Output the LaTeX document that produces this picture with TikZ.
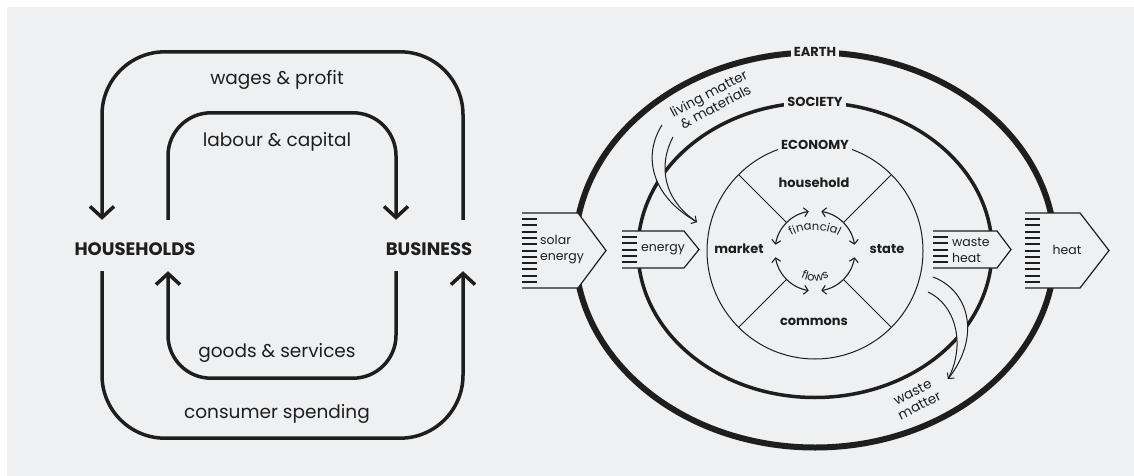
\documentclass[tikz,border=0pt]{standalone}
\usepackage{fontspec}
\setmainfont{Poppins}
\usepackage{tikz}
\usetikzlibrary{arrows.meta}
\usetikzlibrary{decorations.text}
\definecolor{paper}{HTML}{EFF0F2}
\definecolor{ink}{HTML}{1E1E1E}
\tikzstyle{loopline} = [draw=ink, line width=3.5pt, -{Straight Barb[length=11pt,width=24pt,line width=3.5pt]}]
\tikzstyle{actor} = [anchor=base, inner sep=0pt, text height=35pt, text depth=16pt, text=ink, font=\fontsize{18}{20}\selectfont\bfseries]
\tikzstyle{loopname} = [anchor=base, inner sep=0pt, text=ink, font=\fontsize{18.5}{20}\selectfont]
\tikzstyle{ring} = [fill=paper, inner sep=3pt, text=ink, font=\fontsize{13}{15}\selectfont\bfseries]
\tikzstyle{sector} = [inner sep=0pt, text=ink, font=\fontsize{13}{15}\selectfont\bfseries]
\tikzstyle{tag} = [inner sep=0pt, text=ink, align=left, font=\fontsize{12.5}{16}\selectfont]
\tikzstyle{slanted} = [inner sep=0pt, text=ink, align=center, font=\fontsize{13.5}{15}\selectfont]
\tikzstyle{flowarc} = [draw=ink, line width=1.1pt, {Straight Barb[length=4pt,width=9pt]}-{Straight Barb[length=4pt,width=9pt]}]
\tikzstyle{thinline} = [draw=ink, line width=1pt]
\tikzstyle{boxline} = [draw=ink, line width=1.2pt]
\tikzstyle{stripe} = [draw=ink, line width=2pt]

\begin{document}
\begin{tikzpicture}[x=1pt, y=-1pt]
\fill[white] (0,0) rectangle (1134,476);
\fill[paper] (7,7) rectangle (1134,476);

% circular flow
\node[actor] (hh) at (135,255) {HOUSEHOLDS};
\node[actor] (bus) at (429,255) {BUSINESS};
\draw[loopline, rounded corners=63pt] ([xshift=34pt]bus.north) -- ++(0,-168) -| ([xshift=-33pt]hh.north);
\draw[loopline, rounded corners=43pt] ([xshift=33pt]hh.north) -- ++(0,-107) -| ([xshift=-33pt]bus.north);
\draw[loopline, rounded corners=43pt] ([xshift=-33pt]bus.south) -- ++(0,107) -| ([xshift=33pt]hh.south);
\draw[loopline, rounded corners=63pt] ([xshift=-33pt]hh.south) -- ++(0,167) -| ([xshift=34pt]bus.south);
\node[loopname] (wages) at (277,85) {wages \& profit};
\node[loopname] (labour) at (277,146.5) {labour \& capital};
\node[loopname] (goods) at (277,357) {goods \& services};
\node[loopname] (spend) at (277,418) {consumer spending};

% nested rings
\coordinate (c) at (815,251);
\draw[draw=ink, line width=6pt] (815,250) ellipse[x radius=240, y radius=197.5];
\draw[draw=ink, line width=3.5pt] (815,250) ellipse[x radius=177, y radius=147.5];
\draw[thinline] (c) circle[radius=108];
\foreach \a in {45,135,225,315}
  \draw[thinline] (c) ++(\a:40) -- ++(\a:68);
\foreach \s in {9,99,189,279}
  \draw[flowarc] (c) ++(\s:40) arc[start angle=\s, delta angle=72, radius=40];
\path[decorate, decoration={text along path, text align=center,
  text={|\color{ink}\fontsize{11.5}{13}\selectfont|financial}}]
  (788,238) .. controls (801,227.5) and (827,227.5) .. (842,238);
\path[decorate, decoration={text along path, text align=center,
  text={|\color{ink}\fontsize{11.5}{13}\selectfont|flows}}]
  (798,276) .. controls (807,282.5) and (823,282.5) .. (832,276);

\node[ring] (earth) at (815,52) {EARTH};
\node[ring] (society) at (815,102) {SOCIETY};
\node[ring] (economy) at (815,145) {ECONOMY};
\node[sector] (household) at (814,183) {household};
\node[sector] (market) at (739,249) {market};
\node[sector] (state) at (887,249) {state};
\node[sector] (commons) at (814,322) {commons};

% energy boxes
\foreach \l/\t/\b/\s/\p/\n in {522/213/288/578/606/11, 622/231/268/684/699/5, 933/231/268/997/1011/5, 1025/213/288/1080/1109/11} {
  \fill[paper] (\l,\t) -- (\s,\t) -- (\p,{(\t+\b)/2}) -- (\s,\b) -- (\l,\b) -- cycle;
  \draw[boxline] (\l,\t) -- (\s,\t) -- (\p,{(\t+\b)/2}) -- (\s,\b) -- (\l,\b);
  \foreach \i in {1,...,\n}
    \draw[stripe] (\l,{\t+6+(\i-1)*6.3}) -- ++(15,0);
}
\node[tag, anchor=west] (solar) at (540,250) {solar\\energy};
\node[tag, anchor=west] (energy) at (641,250) {energy};
\node[tag, anchor=west] (wasteheat) at (952,250) {waste\\heat};
\node[tag] (heat) at (1067,250) {heat};

% matter in and out
\node[slanted, rotate=28] (living) at (712,100) {living matter\\\& materials};
\node[slanted, rotate=27] (wastematter) at (916,399) {waste\\matter};
\coordinate (lm-a) at (662,125);
\coordinate (lm-b) at (673,137);
\coordinate (lm-tip) at (697,222);
\fill[paper] (lm-a) .. controls (643,155) and (650,195) .. (lm-tip) .. controls (663,200) and (658,165) .. (lm-b) -- cycle;
\draw[thinline, -{Straight Barb[length=4pt,width=9pt]}] (lm-a) .. controls (643,155) and (650,195) .. (lm-tip);
\draw[thinline] (lm-b) .. controls (658,165) and (663,200) .. (lm-tip);
\coordinate (wm-a) at (933,277);
\coordinate (wm-b) at (928,292);
\coordinate (wm-tip) at (948,379);
\fill[paper] (wm-a) .. controls (968,290) and (982,335) .. (wm-tip) .. controls (966,345) and (956,305) .. (wm-b) -- cycle;
\draw[thinline, -{Straight Barb[length=4pt,width=9pt]}] (wm-a) .. controls (968,290) and (982,335) .. (wm-tip);
\draw[thinline] (wm-b) .. controls (956,305) and (966,345) .. (wm-tip);
\end{tikzpicture}
\end{document}
